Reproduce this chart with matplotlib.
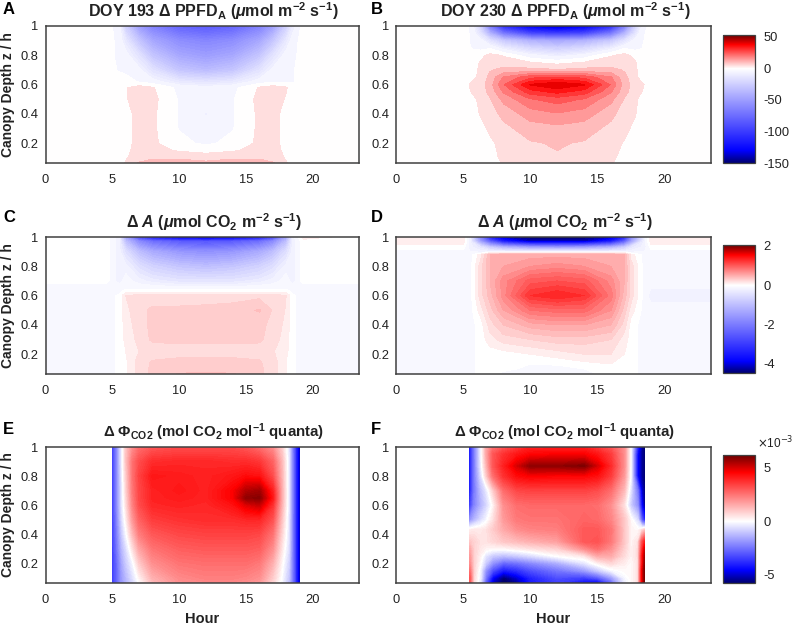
import matplotlib
matplotlib.use('Agg')
import matplotlib.pyplot as plt
import numpy as np
from matplotlib.cm import ScalarMappable
from matplotlib.colors import LinearSegmentedColormap, Normalize

plt.rcParams['font.family'] = ['Liberation Sans', 'DejaVu Sans']
plt.rcParams['mathtext.fontset'] = 'custom'
plt.rcParams['mathtext.rm'] = 'Liberation Sans:bold'
plt.rcParams['mathtext.bf'] = 'Liberation Sans:bold'
plt.rcParams['mathtext.it'] = 'Liberation Sans:italic:bold'

# values, rows go from the canopy top downwards
hours_a = [0, 4.5, 5.5, 6, 7, 8, 10, 12, 14, 16, 17, 18, 18.5, 19.3, 23.5]
depth_a = [1, .9, .8, .7, .62, .58, .5, .4, .3, .2, .15, .1, .065]
ppfd_193 = [
    [0, 0, -5, -25, -50, -65, -80, -85, -80, -65, -50, -25, -10, 0, 0],
    [0, 0, -4, -12, -30, -45, -58, -62, -58, -45, -30, -12, -5, 0, 0],
    [0, 0, -4, -5, -15, -30, -45, -50, -45, -30, -15, -5, -4, 0, 0],
    [0, 0, -3, -4, -6, -15, -30, -35, -30, -15, -6, -4, -3, 0, 0],
    [0, 0, 0, 0, -3, -5, -12, -14, -12, -5, -3, -3, -3, 0, 0],
    [0, 0, 0, 2, 5, 3, -4, -6, -4, 3, 5, 3, 0, 0, 0],
    [0, 0, 0, 2, 5, 4, -3, -4, -3, 4, 5, 2, 0, 0, 0],
    [0, 0, 0, 1, 4, 3.5, -3, -8, -3, 3.5, 4, 1, 0, 0, 0],
    [0, 0, 0, 1, 4, 3.5, -2.8, -4, -2.8, 3.5, 4, 1, 0, 0, 0],
    [0, 0, 0, 1, 4, 3.5, -1, -3.5, -1, 3.5, 4, 1, 0, 0, 0],
    [0, 0, 0, 1, 5, 4, 2, 1, 2, 4, 5, 1, 0, 0, 0],
    [0, 0, 0, 2, 5, 7, 7, 5, 7, 7, 5, 2, 0, 0, 0],
    [0, 0, 0, 3, 8, 9, 9, 9, 9, 9, 8, 3, 0, 0, 0],
]

hours_b = [0, 5, 5.7, 6.3, 7, 8, 10, 12, 14, 16, 17, 17.8, 18.2, 18.9, 23.5]
depth_b = [1, .95, .9, .85, .8, .75, .7, .65, .6, .55, .5, .4, .3, .2, .1, .065]
ppfd_230 = [
    [0, 0, -5, -25, -70, -110, -135, -145, -135, -110, -70, -25, -10, 0, 0],
    [0, 0, -4, -15, -40, -70, -95, -100, -95, -70, -40, -15, -5, 0, 0],
    [0, 0, -4, -5, -15, -28, -40, -45, -40, -28, -15, -5, -4, 0, 0],
    [0, 0, -3, -4, -3, -10, -20, -25, -20, -10, -3, -4, -3, 0, 0],
    [0, 0, 0, 1, 4, 2, -6, -10, -6, 2, 4, 1, 0, 0, 0],
    [0, 0, 0, 3, 5, 5, 3, 1, 3, 5, 5, 3, 0, 0, 0],
    [0, 0, 0, 4, 7, 9, 9, 8, 9, 9, 7, 4, 0, 0, 0],
    [0, 0, 1, 4, 9, 18, 26, 28, 26, 18, 9, 4, 1, 0, 0],
    [0, 0, 4, 5, 10, 22, 38, 42, 38, 22, 10, 5, 4, 0, 0],
    [0, 0, 3, 5, 9, 18, 30, 34, 30, 18, 9, 5, 3, 0, 0],
    [0, 0, 1, 4, 7, 14, 22, 25, 22, 14, 7, 4, 1, 0, 0],
    [0, 0, 0, 3, 5, 9, 15, 17, 15, 9, 5, 3, 0, 0, 0],
    [0, 0, 0, 0, 4, 6, 10, 11, 10, 6, 4, 1, 0, 0, 0],
    [0, 0, 0, 0, 1, 5, 7, 8, 7, 5, 2, 0, 0, 0, 0],
    [0, 0, 0, 0, 0, 4, 5, 7, 5, 4, 0, 0, 0, 0, 0],
    [0, 0, 0, 0, 0, 3, 4, 7, 4, 3, 0, 0, 0, 0, 0],
]

hours_c = [0, 4.5, 5.5, 6, 7, 8, 10, 12, 14, 16, 17, 18, 18.5, 19.3, 23.5]
depth_c = [1, .97, .9, .8, .7, .66, .63, .6, .5, .4, .3, .22, .15, .1, .065]
assim_193 = [
    [0, 0, -.2, -1.5, -3, -3.8, -4.3, -4.4, -4.3, -3.8, -3, -1.5, -.2, .1, 0],
    [0, 0, -.2, -1, -1.8, -2.2, -2.5, -2.6, -2.5, -2.2, -1.8, -1, -.2, 0, 0],
    [0, 0, -.2, -.5, -1, -1.3, -1.6, -1.7, -1.6, -1.3, -1, -.5, -.2, 0, 0],
    [0, 0, -.2, -.2, -.5, -.7, -.9, -1, -.9, -.7, -.5, -.2, -.2, 0, 0],
    [0, 0, -.2, -.1, -.2, -.3, -.4, -.4, -.4, -.3, -.2, -.1, -.2, 0, 0],
    [-.1, -.1, -.1, -.1, -.1, -.1, -.15, -.15, -.15, -.1, -.1, -.1, -.1, -.1, -.1],
    [-.1, -.1, -.1, 0, 0, 0, 0, 0, 0, 0, 0, 0, -.1, -.1, -.1],
    [-.1, -.1, -.03, .15, .2, .2, .2, .2, .2, .22, .22, .15, -.03, -.1, -.1],
    [-.1, -.1, -.03, .12, .22, .27, .27, .28, .3, .36, .24, .14, -.03, -.1, -.1],
    [-.1, -.1, -.03, .1, .2, .28, .28, .28, .28, .28, .22, .12, -.03, -.1, -.1],
    [-.1, -.1, -.03, .08, .18, .27, .28, .28, .28, .27, .2, .1, -.03, -.1, -.1],
    [-.1, -.1, -.03, .05, .15, .18, .2, .2, .2, .2, .16, .08, -.03, -.1, -.1],
    [-.1, -.1, -.03, .03, .2, .26, .28, .28, .28, .26, .2, .05, -.03, -.1, -.1],
    [-.1, -.1, -.03, .03, .2, .27, .28, .3, .28, .27, .2, .05, -.03, -.1, -.1],
    [-.1, -.1, -.03, .03, .2, .27, .36, .38, .36, .27, .2, .05, -.03, -.1, -.1],
]

hours_d = [0, 5, 5.5, 6.3, 7, 8, 10, 12, 14, 16, 17, 17.5, 18.5, 19, 23.5]
depth_d = [1, .97, .93, .9, .88, .8, .7, .6, .5, .4, .3, .2, .1, .065]
assim_230 = [
    [.1, .1, -.2, -2, -3.5, -4.2, -4.5, -4.5, -4.5, -4.2, -3.5, -2, -.2, .12, .12],
    [.12, .12, -.2, -1.5, -2.5, -3.5, -4.2, -4.2, -4.2, -3.5, -2.5, -1.5, -.2, .12, .12],
    [0, 0, -.2, -.4, -.8, -1.2, -1.5, -1.6, -1.5, -1.2, -.8, -.4, -.2, 0, 0],
    [-.1, -.1, -.15, -.2, -.2, -.2, -.2, -.2, -.2, -.2, -.2, -.2, -.15, -.1, -.1],
    [-.1, -.1, -.1, .1, .45, .5, .5, .5, .5, .5, .45, .1, -.1, -.1, -.1],
    [-.1, -.1, -.1, .2, .45, .55, .65, .7, .65, .55, .45, .2, -.1, -.1, -.1],
    [-.1, -.1, -.1, .2, .45, .7, 1.0, 1.05, 1.0, .7, .45, .2, -.1, -.1, -.1],
    [-.1, -.1, -.1, .2, .4, .7, 1.25, 1.35, 1.25, .8, .4, .2, -.1, -.2, -.2],
    [-.1, -.1, -.1, .1, .3, .55, .85, .9, .9, .65, .3, .1, -.1, -.1, -.1],
    [-.1, -.1, -.1, 0, .2, .35, .5, .55, .55, .45, .2, 0, -.1, -.1, -.1],
    [-.1, -.1, -.1, 0, .1, .2, .25, .3, .3, .25, .1, 0, -.1, -.1, -.1],
    [-.1, -.1, -.1, 0, 0, 0, .05, .1, .15, .15, .05, 0, -.1, -.1, -.1],
    [-.1, -.1, -.1, 0, 0, 0, -.1, -.1, -.05, 0, 0, 0, -.1, -.1, -.1],
    [-.1, -.1, -.1, 0, 0, -.1, -.1, -.1, -.1, 0, 0, 0, -.1, -.1, -.1],
]

hours_e = [5, 5.3, 5.7, 6, 6.5, 7, 8, 10, 12, 14, 15, 16, 17, 17.7, 18.2, 18.6, 19]
depth_e = [1, .9, .8, .7, .65, .6, .5, .4, .3, .2, .1, .065]
yield_193 = [
    [-3.5, -2.3, -.3, 1, 2, 2.6, 3, 3.2, 3.2, 3.2, 3, 2.6, 2, .8, -.5, -3, -5],
    [-3.5, -2.3, -.3, 1, 2.5, 3.2, 3.8, 3.9, 3.9, 3.8, 3.8, 3.6, 2.8, 1.2, -.4, -3, -5],
    [-3.5, -2.3, -.4, .8, 2.5, 3.4, 4.2, 4.1, 4, 4.2, 4.4, 4.3, 3.2, 1.3, -.4, -3, -5],
    [-3.5, -2.3, -.5, .7, 2.4, 3.3, 4, 4.2, 4, 4.6, 5.4, 5.6, 4, 1.4, -.4, -3, -5],
    [-3.5, -2.3, -.5, .6, 2.3, 3.3, 4, 4.1, 4, 4.6, 5.8, 5.9, 4.2, 1.4, -.4, -3, -5],
    [-3.5, -2.3, -.5, .5, 2.2, 3.2, 3.9, 4, 3.9, 4.3, 4.9, 5.2, 3.7, 1.3, -.4, -3, -5],
    [-3.5, -2.4, -.7, .2, 1.8, 2.8, 3.5, 3.7, 3.8, 3.8, 3.9, 3.9, 3.1, 1, -.5, -3, -5],
    [-3.5, -2.5, -1, -.2, 1.2, 2.3, 3, 3.3, 3.4, 3.4, 3.4, 3.3, 2.5, .7, -.5, -3, -5],
    [-3.5, -2.6, -1.3, -.7, .5, 1.6, 2.5, 2.9, 3, 3, 3, 2.9, 2, .4, -.6, -3, -5],
    [-3.5, -2.8, -1.6, -1, -.2, .9, 2, 2.5, 2.6, 2.6, 2.6, 2.4, 1.4, .1, -.8, -3, -5],
    [-3.5, -2.8, -1.8, -1.3, -.6, .2, 1.4, 2.1, 2.3, 2.3, 2.2, 2, .9, -.1, -1, -3, -5],
    [-3.5, -2.8, -1.8, -1.4, -.7, 0, 1.2, 2, 2.1, 2.1, 2, 1.8, .7, -.2, -1.1, -3, -5],
]

hours_f = [5.5, 5.8, 6.3, 6.7, 7.2, 8, 9, 10, 12, 14, 15, 16, 17, 17.5, 18, 18.3, 18.5]
depth_f = [1, .95, .87, .8, .7, .6, .5, .43, .35, .3, .25, .2, .15, .1, .065]
yield_230 = [
    [-4, -2.5, -.3, 1.5, 2.5, 3, 3.5, 4, 4, 4, 3.5, 3, 2, -.2, -4, -5.5, -5.8],
    [-4, -2.5, -.3, 1.5, 3, 3.7, 4.2, 4.5, 4.6, 4.6, 4.2, 3.5, 2, -.2, -4.5, -5.5, -5.8],
    [-4, -2.5, -.4, 1.2, 3, 4, 5, 5.8, 5.8, 6, 5, 3.8, 2, -.2, -4.5, -5.5, -5.8],
    [-4, -2.5, -.7, .8, 2.5, 3.7, 4.4, 4.6, 4.5, 4.5, 4.3, 3.5, 1.8, -.2, -4.5, -5.5, -5.8],
    [-4, -2.5, -1.2, -.5, .8, 2.6, 3.3, 3.4, 3.4, 3.4, 3.2, 2.6, 1.2, -.6, -2.5, -5, -5.6],
    [-3.5, -2.3, -1.4, -.8, .1, 2, 2.6, 2.7, 2.7, 2.7, 2.6, 2, .5, -1, -2, -4.5, -5.5],
    [-2, -1.4, -.7, -.2, .5, 1.8, 2.4, 2.5, 2.5, 2.8, 2.7, 2.2, 1, .1, -.7, -3, -4],
    [.3, .4, .4, .5, .9, 1.5, 2, 2.2, 2.3, 3, 3, 2.5, 1, .2, .1, .5, 1],
    [1, .8, .5, .5, .7, 1, 1.2, 1.4, 1.7, 3, 3.1, 2.4, 1, .2, .5, 3, 4],
    [1.5, .8, .4, .2, .1, .1, .3, .5, .8, 2, 2.6, 2, .8, .2, .6, 3.5, 5],
    [1.8, .8, .2, -.5, -1, -1.2, -1, -.7, 0, .4, 1.5, 1.5, .6, .2, .6, 4, 5.5],
    [2, .8, 0, -1, -2, -2.8, -2.6, -2.2, -1.5, -.5, .2, .7, .3, .1, .5, 4, 5.8],
    [2.5, .8, -.3, -2, -3.2, -4.2, -3.8, -3.2, -2.5, -1.8, -1, -.2, .1, .1, .5, 4.5, 6],
    [3, .7, -.4, -2.5, -4.5, -5.8, -5, -4, -3.2, -3.5, -3, -1.8, -.2, .1, .5, 4.5, 6],
    [3, .6, -.5, -3, -5, -6, -5.5, -4.2, -3.5, -4.5, -4.8, -3, -.4, .1, .5, 4.5, 6],
]

hour_ticks = [0, 5, 10, 15, 20]
depth_ticks = [0.2, 0.4, 0.6, 0.8, 1]
ppfd_ticks = [-150, -100, -50, 0, 50]
assim_ticks = [-4, -2, 0, 2]
yield_ticks = [-5, 0, 5]

W, H = 793, 628
TEXT = '#222222'
EDGE = '#404040'


def px_axes(fig, x0, y0, x1, y1):
    # pixel box measured from the top left of the picture
    return fig.add_axes([x0 / W, 1 - y1 / H, (x1 - x0) / W, (y1 - y0) / H])


def make_cmap(vmin, vmax, blue_at, red_at):
    span = vmax - vmin
    stops = [(0, '#00006e'), ((blue_at - vmin) / span, '#0000ff'),
             (-vmin / span, '#ffffff'),
             ((red_at - vmin) / span, '#ff0000'), (1, '#6e0000')]
    return LinearSegmentedColormap.from_list('bwr_' + str(vmax), stops, N=512)


def draw_panel(fig, box, hours, depth, values, title, title_size, letter, letter_y, cmap, norm, levels):
    ax = px_axes(fig, *box)
    ax.contourf(hours, depth, np.array(values), levels=levels, cmap=cmap, norm=norm, extend='both')
    ax.set_xlim(0, 23.45)
    ax.set_ylim(0.065, 1)
    ax.set_xticks(hour_ticks)
    ax.set_yticks(depth_ticks, ['0.2', '0.4', '0.6', '0.8', '1'])
    ax.tick_params(length=0, labelsize=9.3, labelcolor=TEXT, pad=8)
    ax.tick_params(axis='y', pad=5)
    for s in ax.spines.values():
        s.set_color(EDGE)
        s.set_linewidth(1.1)
    # the titles sit a little right of the panel centre
    cx = (box[0] + box[2]) / 2 + 11.5
    fig.text(cx / W, 1 - (box[1] - 15) / H, title, fontsize=title_size, color=TEXT, ha='center', va='center', fontweight='bold')
    lx = 3 if box[0] < 100 else 371
    fig.text(lx / W, 1 - letter_y / H, letter, fontsize=12, color='black', ha='left', va='center', fontweight='bold')
    if box[0] < 100:
        fig.text(8 / W, 1 - (box[1] + box[3]) / 2 / H, 'Canopy Depth z / h', rotation=90, fontsize=10,
                 fontweight='bold', color=TEXT, ha='center', va='center')
    return ax


def draw_colorbar(fig, box, cmap, norm, ticks):
    cax = px_axes(fig, *box)
    cb = fig.colorbar(ScalarMappable(norm=norm, cmap=cmap), cax=cax)
    cb.set_ticks(ticks, labels=[str(t) for t in ticks])
    cax.tick_params(length=0, labelsize=9.3, labelcolor=TEXT, pad=6)
    cb.outline.set_edgecolor(EDGE)
    cb.outline.set_linewidth(0.9)


fig = plt.figure(figsize=(W / 100, H / 100), dpi=100)

rows = [(26, 163), (237, 374), (447, 583)]
left = (45.5, 359)
right = (396, 711)

# row 1
norm1 = Normalize(-150, 53)
cmap1 = make_cmap(-150, 53, -130, 38)
levels1 = np.concatenate([np.arange(-152.5, -7.5, 2.5), np.arange(-7.5, 55, 5)])
draw_panel(fig, (left[0], rows[0][0], left[1], rows[0][1]), hours_a, depth_a, ppfd_193,
           r'DOY 193 $\Delta$ PPFD$_{\mathbf{A}}$ ($\mathit{\mu}$mol m$^{-2}$ s$^{-1}$)', 11.5, 'A', 10, cmap1, norm1, levels1)
draw_panel(fig, (right[0], rows[0][0], right[1], rows[0][1]), hours_b, depth_b, ppfd_230,
           r'DOY 230 $\Delta$ PPFD$_{\mathbf{A}}$ ($\mathit{\mu}$mol m$^{-2}$ s$^{-1}$)', 11.5, 'B', 10, cmap1, norm1, levels1)
draw_colorbar(fig, (723, 35, 755, 163), cmap1, norm1, ppfd_ticks)

# row 2
norm2 = Normalize(-4.5, 2.05)
cmap2 = make_cmap(-4.5, 2.05, -3.9, 1.55)
levels2 = np.arange(-4.55, 2.1, 0.1)
title2 = r'$\Delta$ $\mathit{A}$ ($\mathit{\mu}$mol CO$_{\mathbf{2}}$ m$^{-2}$ s$^{-1}$)'
draw_panel(fig, (left[0], rows[1][0], left[1], rows[1][1]), hours_c, depth_c, assim_193, title2, 11.5, 'C', 217, cmap2, norm2, levels2)
draw_panel(fig, (right[0], rows[1][0], right[1], rows[1][1]), hours_d, depth_d, assim_230, title2, 11.5, 'D', 217, cmap2, norm2, levels2)
draw_colorbar(fig, (723, 245, 755, 373), cmap2, norm2, assim_ticks)

# row 3
norm3 = Normalize(-5.8, 6.2)
cmap3 = make_cmap(-5.8, 6.2, -4.6, 4.6)
levels3 = np.arange(-5.85, 6.25, 0.1)
title3 = r'$\Delta$ $\Phi_{\mathbf{CO2}}$ (mol CO$_{\mathbf{2}}$ mol$^{-1}$ quanta)'
ax_e = draw_panel(fig, (left[0], rows[2][0], left[1], rows[2][1]), hours_e, depth_e, yield_193, title3, 10.8, 'E', 429, cmap3, norm3, levels3)
ax_f = draw_panel(fig, (right[0], rows[2][0], right[1], rows[2][1]), hours_f, depth_f, yield_230, title3, 10.8, 'F', 429, cmap3, norm3, levels3)
draw_colorbar(fig, (723, 455, 755, 583), cmap3, norm3, yield_ticks)
fig.text(757 / W, 1 - 443 / H, r'$\times$10$^{-3}$', fontsize=8.5, color=TEXT, ha='left', va='center',
         math_fontfamily='dejavusans')

ax_e.set_xlabel('Hour', fontsize=10.5, fontweight='bold', color=TEXT, labelpad=4)
ax_f.set_xlabel('Hour', fontsize=10.5, fontweight='bold', color=TEXT, labelpad=4)

fig.savefig('out.png', dpi=100)
